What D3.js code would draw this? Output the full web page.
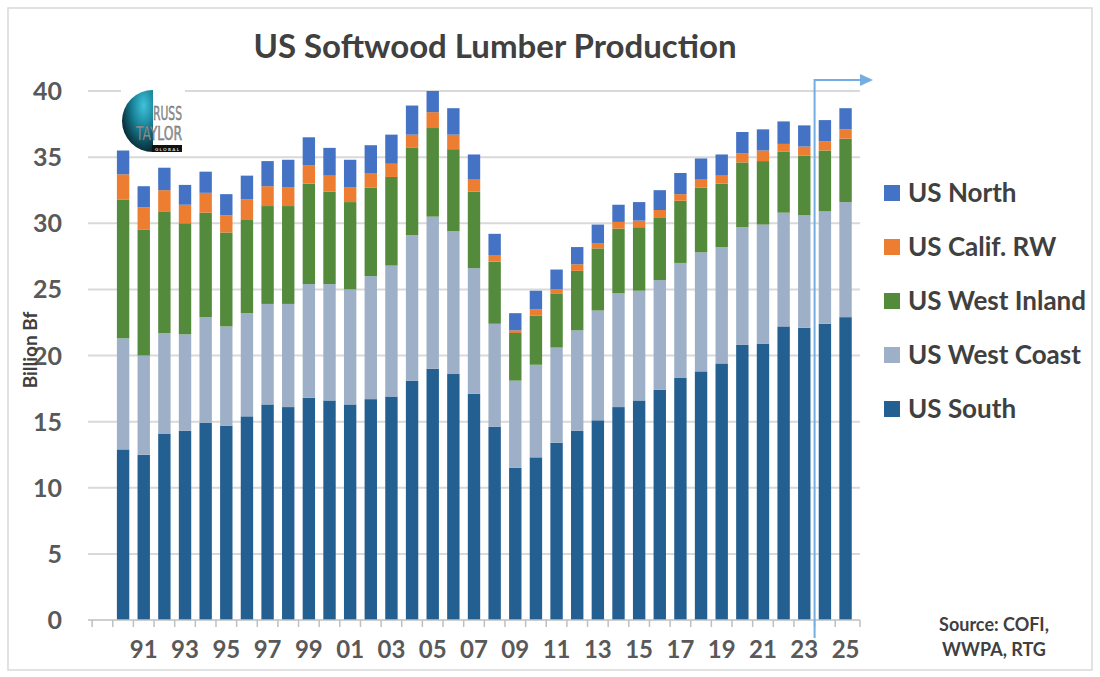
<!DOCTYPE html>
<html>
<head>
<meta charset="utf-8">
<script src="https://cdn.jsdelivr.net/npm/d3@7"></script>
<style>
  body { margin: 0; background: #fff; }
  svg { display: block; font-family: Lato, "Open Sans", sans-serif; }
</style>
</head>
<body>
<svg id="chart" width="1100" height="677"></svg>
<script>
// production by region, billion board feet
const years = [1990, 1991, 1992, 1993, 1994, 1995, 1996, 1997, 1998, 1999, 2000, 2001, 2002, 2003, 2004, 2005, 2006, 2007,
  2008, 2009, 2010, 2011, 2012, 2013, 2014, 2015, 2016, 2017, 2018, 2019, 2020, 2021, 2022, 2023, 2024, 2025];
const south = [12.9, 12.5, 14.1, 14.3, 14.9, 14.7, 15.4, 16.3, 16.1, 16.8, 16.6, 16.3, 16.7, 16.9, 18.1, 19.0, 18.6, 17.1,
  14.6, 11.5, 12.3, 13.4, 14.3, 15.1, 16.1, 16.6, 17.4, 18.3, 18.8, 19.4, 20.8, 20.9, 22.2, 22.1, 22.4, 22.9];
const westCoast = [8.4, 7.5, 7.6, 7.3, 8.0, 7.5, 7.8, 7.6, 7.8, 8.6, 8.8, 8.7, 9.3, 9.9, 11.0, 11.5, 10.8, 9.5,
  7.8, 6.6, 7.0, 7.2, 7.6, 8.3, 8.6, 8.3, 8.3, 8.7, 9.0, 8.8, 8.9, 9.0, 8.6, 8.5, 8.5, 8.7];
const westInland = [10.5, 9.5, 9.2, 8.4, 7.9, 7.1, 7.1, 7.4, 7.4, 7.6, 7.0, 6.6, 6.7, 6.7, 6.6, 6.7, 6.2, 5.8,
  4.7, 3.6, 3.7, 4.1, 4.5, 4.7, 4.9, 4.8, 4.7, 4.7, 4.9, 4.8, 4.9, 4.8, 4.6, 4.5, 4.6, 4.8];
const califRW = [1.9, 1.7, 1.6, 1.4, 1.5, 1.3, 1.5, 1.5, 1.4, 1.4, 1.2, 1.1, 1.1, 1.0, 1.0, 1.2, 1.1, 0.9,
  0.5, 0.2, 0.5, 0.3, 0.5, 0.4, 0.5, 0.5, 0.6, 0.5, 0.6, 0.6, 0.7, 0.8, 0.6, 0.7, 0.7, 0.7];
const north = [1.8, 1.6, 1.7, 1.5, 1.6, 1.6, 1.8, 1.9, 2.1, 2.1, 2.1, 2.1, 2.1, 2.2, 2.2, 1.6, 2.0, 1.9,
  1.6, 1.3, 1.4, 1.5, 1.3, 1.4, 1.3, 1.4, 1.5, 1.6, 1.6, 1.6, 1.6, 1.6, 1.7, 1.6, 1.6, 1.6];

const seriesNames = ["US South", "US West Coast", "US West Inland", "US Calif. RW", "US North"];
const seriesColors = ["#245f91", "#9eb0c7", "#538a3b", "#ed7d31", "#4472c4"];
const yTicks = [0, 5, 10, 15, 20, 25, 30, 35, 40];
const labelYears = [1991, 1993, 1995, 1997, 1999, 2001, 2003, 2005, 2007, 2009, 2011, 2013, 2015, 2017, 2019, 2021, 2023, 2025];
const forecastFrom = 2024;

const svg = d3.select("#chart");
const margin = { top: 91, right: 240, bottom: 57, left: 88 };
const width = 1100;
const height = 677;

// frame
svg.append("rect")
  .attr("x", 8).attr("y", 8)
  .attr("width", 1084).attr("height", 662)
  .attr("fill", "#fff")
  .attr("stroke", "#d9d9d9")
  .attr("stroke-width", 1.5);

const table = years.map((yr, i) => ({
  year: yr,
  "US South": south[i],
  "US West Coast": westCoast[i],
  "US West Inland": westInland[i],
  "US Calif. RW": califRW[i],
  "US North": north[i]
}));

// one empty slot before 1990, as in the original sheet
const x = d3.scaleBand()
  .domain([years[0] - 1, ...years])
  .range([margin.left, width - margin.right])
  .padding(0.4);

const y = d3.scaleLinear()
  .domain([0, 40])
  .range([height - margin.bottom, margin.top]);

const color = d3.scaleOrdinal().domain(seriesNames).range(seriesColors);

// gridlines
svg.append("g")
  .selectAll("line")
  .data(yTicks.slice(1))
  .join("line")
  .attr("x1", margin.left)
  .attr("x2", width - margin.right)
  .attr("y1", d => y(d))
  .attr("y2", d => y(d))
  .attr("stroke", "#d9d9d9")
  .attr("stroke-width", 2);

// y labels
svg.append("g")
  .selectAll("text")
  .data(yTicks)
  .join("text")
  .attr("x", 62)
  .attr("y", d => y(d))
  .attr("dy", "0.36em")
  .attr("text-anchor", "end")
  .attr("font-size", 25)
  .attr("font-weight", 700)
  .attr("fill", "#595959")
  .text(d => d);

// logo (drawn before the bars, it sits on the 40 gridline)
const logo = svg.append("g").attr("transform", "translate(153,121)");
const grad = svg.append("defs").append("radialGradient")
  .attr("id", "globe").attr("cx", "70%").attr("cy", "25%").attr("r", "85%");
grad.append("stop").attr("offset", "0%").attr("stop-color", "#3fc3da");
grad.append("stop").attr("offset", "45%").attr("stop-color", "#177f95");
grad.append("stop").attr("offset", "100%").attr("stop-color", "#04161c");
logo.append("rect").attr("x", -32).attr("y", -35).attr("width", 64).attr("height", 66).attr("fill", "#fff");
logo.append("path")
  .attr("d", d3.arc()({ innerRadius: 0, outerRadius: 31, startAngle: Math.PI, endAngle: 2 * Math.PI }))
  .attr("fill", "url(#globe)");
logo.append("rect").attr("x", -1).attr("y", 24).attr("width", 30).attr("height", 7).attr("fill", "#111");
logo.append("text").attr("x", 14).attr("y", 29.5).attr("text-anchor", "middle")
  .attr("font-size", 4.5).attr("font-weight", 700).attr("fill", "#ddd")
  .attr("textLength", 24).attr("lengthAdjust", "spacing").text("GLOBAL");
logo.append("text").attr("x", 0).attr("y", -1)
  .attr("font-family", "'DejaVu Sans Condensed', sans-serif")
  .attr("font-size", 19).attr("fill", "#9a9a9a").attr("stroke", "#555").attr("stroke-width", 0.4)
  .attr("textLength", 29).attr("lengthAdjust", "spacingAndGlyphs").text("RUSS");
logo.append("text").attr("x", -17).attr("y", 19)
  .attr("font-family", "'DejaVu Sans Condensed', sans-serif")
  .attr("font-size", 19).attr("fill", "#9a9a9a").attr("stroke", "#555").attr("stroke-width", 0.4)
  .attr("textLength", 46).attr("lengthAdjust", "spacingAndGlyphs").text("TAYLOR");

// stacked bars
const stacked = d3.stack().keys(seriesNames)(table);

svg.append("g")
  .selectAll("g")
  .data(stacked)
  .join("g")
  .attr("fill", d => color(d.key))
  .selectAll("rect")
  .data(d => d)
  .join("rect")
  .attr("x", d => x(d.data.year))
  .attr("width", x.bandwidth())
  .attr("y", d => y(d[1]))
  .attr("height", d => y(d[0]) - y(d[1]));

// x axis
const xAxis = svg.append("g").attr("transform", `translate(0,${y(0)})`);
xAxis.append("line")
  .attr("x1", margin.left).attr("x2", width - margin.right)
  .attr("stroke", "#bfbfbf").attr("stroke-width", 1.5);
xAxis.selectAll(".tick")
  .data([years[0] - 1, ...years])
  .join("line")
  .attr("class", "tick")
  .attr("x1", d => x(d) - (x.step() - x.bandwidth()) / 2)
  .attr("x2", d => x(d) - (x.step() - x.bandwidth()) / 2)
  .attr("y1", 0).attr("y2", 7)
  .attr("stroke", "#bfbfbf").attr("stroke-width", 1.5);
xAxis.append("line")
  .attr("x1", width - margin.right).attr("x2", width - margin.right)
  .attr("y1", 0).attr("y2", 7)
  .attr("stroke", "#bfbfbf").attr("stroke-width", 1.5);
xAxis.selectAll(".lbl")
  .data(labelYears)
  .join("text")
  .attr("class", "lbl")
  .attr("x", d => x(d) + x.bandwidth() / 2)
  .attr("y", 38)
  .attr("text-anchor", "middle")
  .attr("font-size", 24)
  .attr("font-weight", 700)
  .attr("fill", "#595959")
  .text(d => String(d).slice(2));

// forecast marker
const fx = x(forecastFrom) - (x.step() - x.bandwidth()) / 2;
svg.append("path")
  .attr("d", `M${fx},${y(0) + 18}V80H${width - margin.right + 2}`)
  .attr("fill", "none")
  .attr("stroke", "#74aee0")
  .attr("stroke-width", 2);
svg.append("path")
  .attr("d", `M${width - margin.right},74L${width - margin.right + 13},80L${width - margin.right},86Z`)
  .attr("fill", "#74aee0");

// title
svg.append("text")
  .attr("x", 495).attr("y", 58)
  .attr("text-anchor", "middle")
  .attr("font-size", 33)
  .attr("font-weight", 700)
  .attr("fill", "#404040")
  .text("US Softwood Lumber Production");

// y title
svg.append("text")
  .attr("transform", "translate(37,350) rotate(-90)")
  .attr("text-anchor", "middle")
  .attr("font-size", 19)
  .attr("font-weight", 700)
  .attr("fill", "#404040")
  .text("Billion Bf");

// legend, top to bottom is reverse of stack
const legend = svg.append("g")
  .selectAll("g")
  .data(seriesNames.slice().reverse())
  .join("g")
  .attr("transform", (d, i) => `translate(884,${193 + i * 54})`);
legend.append("rect")
  .attr("x", 0).attr("y", -8)
  .attr("width", 16).attr("height", 16)
  .attr("fill", d => color(d));
legend.append("text")
  .attr("x", 24).attr("dy", "0.36em")
  .attr("font-size", 26)
  .attr("font-weight", 700)
  .attr("fill", "#404040")
  .text(d => d);

// source note
const src = svg.append("text")
  .attr("x", 994).attr("y", 631)
  .attr("text-anchor", "middle")
  .attr("font-size", 18)
  .attr("font-weight", 700)
  .attr("fill", "#404040");
src.append("tspan").attr("x", 994).text("Source: COFI,");
src.append("tspan").attr("x", 994).attr("dy", 25).text("WWPA, RTG");
</script>
</body>
</html>
